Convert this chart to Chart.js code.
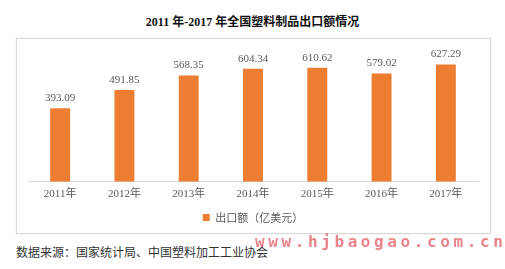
<!DOCTYPE html>
<html>
<head>
<meta charset="utf-8">
<script src="https://cdn.jsdelivr.net/npm/chart.js@4"></script>
<style>
    body { margin: 0; background: #fff; width: 505px; height: 269px; overflow: hidden; position: relative; }
    #title { position: absolute; left: 0; top: 12px; width: 505px; text-align: center;
             font: bold 12px "Liberation Serif", "Noto Sans CJK SC", serif; color: #111; }
    #box { position: absolute; left: 16px; top: 38px; width: 473px; height: 194px;
           border: 1px solid #d9d9d9; box-shadow: 0 0 2px #e6e6e6; }
    #source { position: absolute; left: 16px; top: 243px;
              font: 12px "Noto Sans CJK SC", sans-serif; color: #333; }
    #mark { position: absolute; left: 255px; top: 232px; letter-spacing: 3.6px;
            font: bold 16px "DejaVu Sans Mono", monospace; color: rgba(226, 90, 100, 0.75); }
</style>
</head>
<body>
<div id="title">2011 年-2017 年全国塑料制品出口额情况</div>
<div id="box"><canvas id="myChart" width="473" height="194"></canvas></div>
<div id="source">数据来源：国家统计局、中国塑料加工工业协会</div>
<div id="mark">www.hjbaogao.com.cn</div>
<script>
// data
const years = ['2011年', '2012年', '2013年', '2014年', '2015年', '2016年', '2017年'];
const exportValue = [393.09, 491.85, 568.35, 604.34, 610.62, 579.02, 627.29];   // 亿美元
const seriesName = '出口额（亿美元）';

// value labels above each bar
const barLabels = {
    id: 'barLabels',
    afterDatasetsDraw(chart) {
        const ctx = chart.ctx;
        ctx.save();
        ctx.font = '11px "Liberation Serif", serif';
        ctx.fillStyle = '#595959';
        ctx.textAlign = 'center';
        ctx.textBaseline = 'middle';
        chart.getDatasetMeta(0).data.forEach((bar, i) => {
            ctx.fillText(exportValue[i].toFixed(2), bar.x, bar.y - 10);
        });
        ctx.restore();
    }
};

const ctx = document.getElementById('myChart');
const myChart = new Chart(ctx, {
    type: 'bar',
    data: {
        labels: years,
        datasets: [{
            label: seriesName,
            data: exportValue,
            backgroundColor: '#ED7D31',
            categoryPercentage: 1,
            barPercentage: 0.31
        }]
    },
    options: {
        responsive: false,
        animation: false,
        layout: { padding: { left: 11, right: 12, top: 12, bottom: 0 } },
        scales: {
            x: {
                grid: { display: false, drawTicks: false },
                border: { color: '#d9d9d9' },
                ticks: {
                    padding: 6,
                    color: '#595959',
                    font: { size: 11, family: '"Liberation Serif", "Noto Sans CJK SC", serif' }
                }
            },
            y: { display: false, min: 0, max: 700 }
        },
        plugins: {
            legend: {
                position: 'bottom',
                labels: {
                    boxWidth: 7,
                    boxHeight: 7,
                    padding: 5,
                    color: '#595959',
                    font: { size: 11, family: '"Noto Sans CJK SC", sans-serif' }
                }
            },
            tooltip: { enabled: false }
        }
    },
    plugins: [barLabels]
});
</script>
</body>
</html>
